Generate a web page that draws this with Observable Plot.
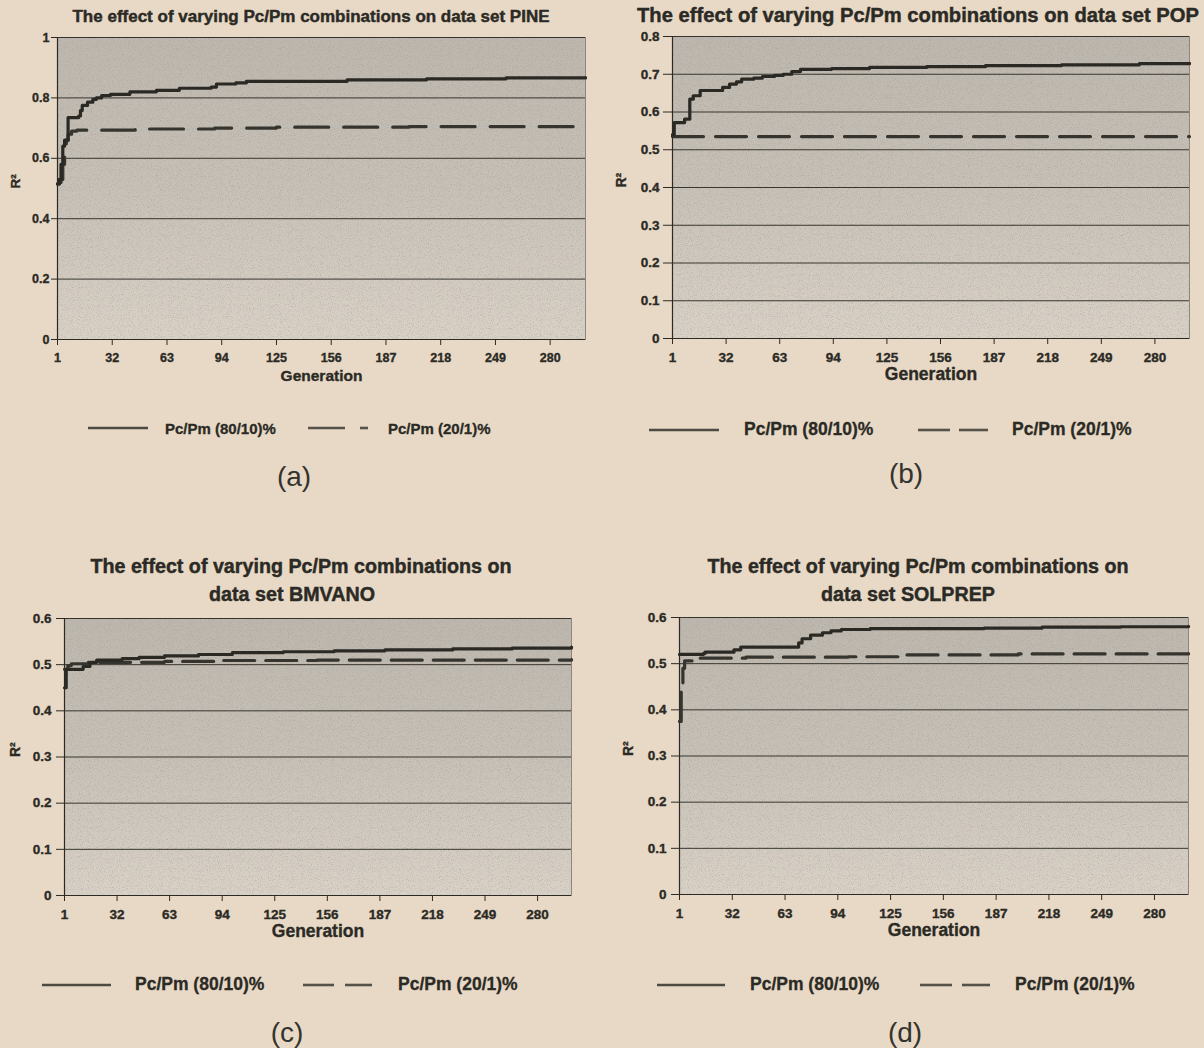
<!DOCTYPE html>
<html>
<head>
<meta charset="utf-8">
<script src="https://cdn.jsdelivr.net/npm/d3@7"></script>
<script src="https://cdn.jsdelivr.net/npm/@observablehq/plot@0.6"></script>
<style>
  html, body { margin: 0; padding: 0; background: #e8d9c6; }
  #page { position: relative; width: 1204px; height: 1048px; overflow: hidden; background: #e8d9c6;
          font-family: "Liberation Sans", Arial, sans-serif; color: #2b2a25; }
  .abs { position: absolute; white-space: nowrap; line-height: 1; }
  .title { font-weight: bold; transform: translate(-50%, -50%); -webkit-text-stroke: 0.45px #2b2a25; }
  .legtext { font-weight: bold; transform: translateY(-50%); -webkit-text-stroke: 0.3px #2b2a25; }
  .letter { font-weight: normal; transform: translate(-50%, -50%); color: #34332e; }
  svg.defs { position: absolute; width: 0; height: 0; }
  #page svg.chart text { stroke: #2b2a25; stroke-width: 0.35px; }
</style>
</head>
<body>
<div id="page">
  <svg class="defs" aria-hidden="true">
    <defs>
      <linearGradient id="plotBg" x1="0" y1="0" x2="0" y2="1">
        <stop offset="0" stop-color="#bdb7ae"/>
        <stop offset="0.5" stop-color="#c8c1b7"/>
        <stop offset="1" stop-color="#dad2c7"/>
      </linearGradient>
      <filter id="grain" x="0" y="0" width="100%" height="100%">
        <feTurbulence type="fractalNoise" baseFrequency="0.9" numOctaves="2" seed="7" result="n"/>
        <feColorMatrix in="n" type="matrix" values="0 0 0 0 0.3  0 0 0 0 0.29  0 0 0 0 0.27  1.2 0 0 0 -0.58" result="c"/>
        <feComposite in="c" in2="SourceGraphic" operator="in"/>
      </filter>
    </defs>
  </svg>
</div>
<script>
// ---------------- data ----------------
const generationTicks = [1, 32, 63, 94, 125, 156, 187, 218, 249, 280];
const generationDomain = [1, 300];
const seriesLabels = ["Pc/Pm (80/10)%", "Pc/Pm (20/1)%"];
const panelLetters = ["(a)", "(b)", "(c)", "(d)"];
const xAxisTitle = "Generation";
const yAxisTitle = "R²";

const titlePine = ["The effect of varying Pc/Pm combinations on data set PINE"];
const titlePop = ["The effect of varying Pc/Pm combinations on data set POP"];
const titleBmvano = ["The effect of varying Pc/Pm combinations on", "data set BMVANO"];
const titleSolprep = ["The effect of varying Pc/Pm combinations on", "data set SOLPREP"];

const yTicksPine = [0, 0.2, 0.4, 0.6, 0.8, 1];
const yTicksPop = [0, 0.1, 0.2, 0.3, 0.4, 0.5, 0.6, 0.7, 0.8];
const yTicksBmvano = [0, 0.1, 0.2, 0.3, 0.4, 0.5, 0.6];
const yTicksSolprep = [0, 0.1, 0.2, 0.3, 0.4, 0.5, 0.6];

// PINE
const pineHiGen = [1, 2, 3, 4, 5, 7, 13, 14, 15, 18, 21, 23, 26, 31, 42, 57, 70, 88, 91, 102, 108, 165, 210, 255, 300];
const pineHiR2  = [0.515, 0.53, 0.58, 0.64, 0.66, 0.735, 0.74, 0.758, 0.775, 0.786, 0.795, 0.80, 0.808, 0.812, 0.82, 0.825, 0.832, 0.836, 0.846, 0.85, 0.855, 0.86, 0.863, 0.866, 0.867];
const pineLoGen = [1, 2, 3, 4, 5, 6, 7, 9, 12, 45, 90, 125, 200, 300];
const pineLoR2  = [0.515, 0.52, 0.53, 0.58, 0.62, 0.66, 0.68, 0.69, 0.693, 0.697, 0.70, 0.703, 0.705, 0.706];

// POP
const popHiGen = [1, 2, 8, 11, 13, 17, 30, 34, 38, 41, 48, 53, 60, 65, 70, 75, 93, 115, 148, 182, 226, 271, 300];
const popHiR2  = [0.54, 0.572, 0.581, 0.634, 0.643, 0.657, 0.665, 0.674, 0.68, 0.687, 0.69, 0.694, 0.697, 0.70, 0.707, 0.713, 0.715, 0.718, 0.72, 0.723, 0.725, 0.728, 0.729];
const popLoGen = [1, 300];
const popLoR2  = [0.535, 0.535];

// BMVANO
const bmvanoHiGen = [1, 2, 12, 16, 20, 35, 45, 60, 80, 100, 130, 160, 190, 230, 265, 300];
const bmvanoHiR2  = [0.45, 0.49, 0.496, 0.505, 0.51, 0.513, 0.516, 0.519, 0.522, 0.526, 0.528, 0.53, 0.532, 0.534, 0.536, 0.538];
const bmvanoLoGen = [1, 3, 5, 15, 60, 90, 150, 300];
const bmvanoLoR2  = [0.49, 0.498, 0.502, 0.505, 0.507, 0.509, 0.51, 0.511];

// SOLPREP
const solprepHiGen = [1, 15, 16, 33, 37, 71, 73, 78, 85, 90, 96, 113, 180, 214, 260, 300];
const solprepHiR2  = [0.52, 0.522, 0.525, 0.53, 0.536, 0.545, 0.554, 0.562, 0.567, 0.571, 0.574, 0.576, 0.577, 0.579, 0.58, 0.581];
const solprepLoGen = [1, 2, 3, 4, 10, 40, 100, 130, 200, 300];
const solprepLoR2  = [0.375, 0.44, 0.49, 0.506, 0.512, 0.514, 0.515, 0.519, 0.521, 0.522];

// ---------------- panels ----------------
const panels = [
  {title: titlePine, yTicks: yTicksPine, hiGen: pineHiGen, hiR2: pineHiR2, loGen: pineLoGen, loR2: pineLoR2},
  {title: titlePop, yTicks: yTicksPop, hiGen: popHiGen, hiR2: popHiR2, loGen: popLoGen, loR2: popLoR2},
  {title: titleBmvano, yTicks: yTicksBmvano, hiGen: bmvanoHiGen, hiR2: bmvanoHiR2, loGen: bmvanoLoGen, loR2: bmvanoLoR2},
  {title: titleSolprep, yTicks: yTicksSolprep, hiGen: solprepHiGen, hiR2: solprepHiR2, loGen: solprepLoGen, loR2: solprepLoR2}
];

// ---------------- layout (positions / sizes / styles) ----------------
const layout = [
  {left: 0, top: 27, w: 600, ml: 57, mr: 15, mt: 10, ph: 302, mb: 54, yTick: 6, yPad: 2, rOff: 42, dash: "34,15",
   tickFont: 12.5, genFont: 15.5, rFont: 13.5, titleFont: 17, titlePos: [[311, 16]],
   legY: 428, legFont: 15, solid: [88, 148], text1: 165, dashes: [[308, 345], [360, 368]], text2: 388, letter: [294, 477]},
  {left: 600, top: 26, w: 604, ml: 72, mr: 15, mt: 10, ph: 302, mb: 54, yTick: 9, yPad: 4, rOff: 51, dash: "31,12",
   tickFont: 13.5, genFont: 17.5, rFont: 14, titleFont: 20.2, titlePos: [[918, 15]],
   legY: 430, legFont: 17.5, solid: [649, 719], text1: 744, dashes: [[918, 950], [959, 988]], text2: 1012, letter: [906, 474]},
  {left: 0, top: 608, w: 600, ml: 64, mr: 29, mt: 10, ph: 277, mb: 54, yTick: 8, yPad: 5, rOff: 49, dash: "31,11",
   tickFont: 13.5, genFont: 17.5, rFont: 14, titleFont: 19.7, titlePos: [[301, 567], [292, 595]],
   legY: 985, legFont: 17.5, solid: [42, 111], text1: 135, dashes: [[303, 334], [345, 372]], text2: 398, letter: [287, 1033]},
  {left: 600, top: 607, w: 604, ml: 79, mr: 16, mt: 10, ph: 277, mb: 54, yTick: 8, yPad: 5, rOff: 51, dash: "31,11",
   tickFont: 13.5, genFont: 17.5, rFont: 14, titleFont: 19.7, titlePos: [[918, 567], [908, 595]],
   legY: 985, legFont: 17.5, solid: [657, 725], text1: 750, dashes: [[920, 952], [962, 990]], text2: 1015, letter: [905, 1033]}
];

const ink = "#2b2a25";
const page = document.getElementById("page");

function addDiv(cls, x, y, text, css) {
  const d = document.createElement("div");
  d.className = "abs " + cls;
  d.style.left = x + "px";
  d.style.top = y + "px";
  Object.assign(d.style, css || {});
  d.textContent = text;
  page.appendChild(d);
  return d;
}

// legend line samples go in one overlay svg
const legendSvg = d3.create("svg")
  .attr("width", 1204).attr("height", 1048)
  .style("position", "absolute").style("left", "0").style("top", "0").style("pointer-events", "none");

panels.forEach((p, i) => {
  const L = layout[i];
  const hi = p.hiGen.map((g, k) => ({gen: g, r2: p.hiR2[k]}));
  const lo = p.loGen.map((g, k) => ({gen: g, r2: p.loR2[k]}));
  const yMax = p.yTicks[p.yTicks.length - 1];

  const chart = Plot.plot({
    width: L.w,
    height: L.mt + L.ph + L.mb,
    marginLeft: L.ml, marginRight: L.mr, marginTop: L.mt, marginBottom: L.mb,
    className: "chart",
    style: {background: "transparent", fontFamily: "'Liberation Sans', Arial, sans-serif",
            fontSize: L.tickFont + "px", fontWeight: "bold", color: ink, overflow: "visible"},
    x: {domain: generationDomain, label: null},
    y: {domain: [0, yMax], label: null},
    marks: [
      Plot.frame({fill: "url(#plotBg)", stroke: "#8c867c", strokeWidth: 1}),
      Plot.frame({fill: "#000", stroke: null}),
      Plot.gridY(p.yTicks, {stroke: "#2f2e29", strokeOpacity: 0.95, strokeWidth: 1}),
      Plot.ruleX([generationDomain[0]], {stroke: ink, strokeWidth: 1.2}),
      Plot.ruleY([0], {stroke: ink, strokeWidth: 1.2}),
      Plot.axisY({ticks: p.yTicks, tickSize: L.yTick, tickPadding: L.yPad, tickFormat: d => String(d), label: null, stroke: ink}),
      Plot.axisX({ticks: generationTicks, tickSize: 6, tickPadding: 8, tickFormat: d => String(d), label: null, stroke: ink}),
      Plot.line(lo, {x: "gen", y: "r2", curve: "step-after", stroke: "#35342e", strokeWidth: 3.2, strokeDasharray: L.dash}),
      Plot.line(hi, {x: "gen", y: "r2", curve: "step-after", stroke: "#2a2924", strokeWidth: 3.2}),
      Plot.text([xAxisTitle], {text: d => d, frameAnchor: "bottom", dy: 41, fontSize: L.genFont, fontWeight: "bold", fill: ink}),
      Plot.text([yAxisTitle], {text: d => d, frameAnchor: "left", dx: -L.rOff, rotate: -90, fontSize: L.rFont, fontWeight: "bold", fill: ink})
    ]
  });
  // grain texture on the second frame
  const frames = chart.querySelectorAll('[aria-label="frame"]');
  if (frames.length > 1) frames[1].setAttribute("filter", "url(#grain)");
  chart.classList.add("chart");
  chart.style.position = "absolute";
  chart.style.left = L.left + "px";
  chart.style.top = L.top + "px";
  page.appendChild(chart);

  // title lines
  p.title.forEach((line, k) => addDiv("title", L.titlePos[k][0], L.titlePos[k][1], line, {fontSize: L.titleFont + "px"}));

  // legend
  legendSvg.append("line").attr("x1", L.solid[0]).attr("x2", L.solid[1]).attr("y1", L.legY).attr("y2", L.legY)
    .attr("stroke", "#4d4a43").attr("stroke-width", 2.6);
  L.dashes.forEach(([a, b]) => legendSvg.append("line").attr("x1", a).attr("x2", b).attr("y1", L.legY).attr("y2", L.legY)
    .attr("stroke", "#55524a").attr("stroke-width", 2.6));
  addDiv("legtext", L.text1, L.legY, seriesLabels[0], {fontSize: L.legFont + "px"});
  addDiv("legtext", L.text2, L.legY, seriesLabels[1], {fontSize: L.legFont + "px"});

  // panel letter
  addDiv("letter", L.letter[0], L.letter[1], panelLetters[i], {fontSize: "28px"});
});
page.appendChild(legendSvg.node());
</script>
</body>
</html>
